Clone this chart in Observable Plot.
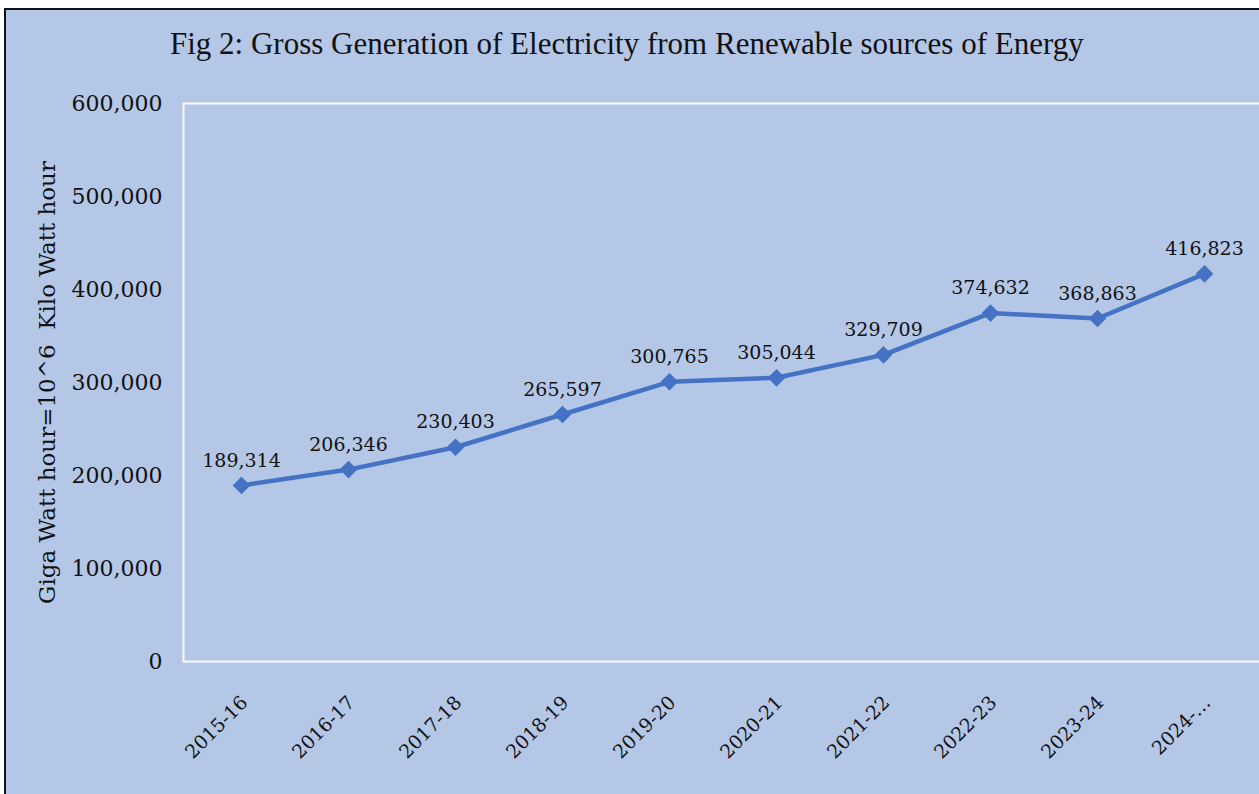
<!DOCTYPE html>
<html>
<head>
<meta charset="utf-8">
<script src="https://cdn.jsdelivr.net/npm/d3@7"></script>
<script src="https://cdn.jsdelivr.net/npm/@observablehq/plot@0.6"></script>
<style>
  html, body { margin: 0; padding: 0; background: #ffffff; overflow: hidden; width: 1259px; height: 794px; }
  #box { position: absolute; left: 4px; top: 8px; width: 1300px; height: 820px; border: 2px solid #111; background: #b4c7e7; }
  #title { height: 70px; font-family: "Liberation Serif", serif; font-size: 31px; color: #111; text-align: left; padding-left: 164px; line-height: 68px; white-space: nowrap; }
</style>
</head>
<body>
<div id="box">
  <div id="title">Fig 2: Gross Generation of Electricity from Renewable sources of Energy</div>
  <div id="chart"></div>
</div>
<script>
const years = ["2015-16","2016-17","2017-18","2018-19","2019-20","2020-21","2021-22","2022-23","2023-24","2024-…"];
const generation = [189314, 206346, 230403, 265597, 300765, 305044, 329709, 374632, 368863, 416823];
const yTicks = [0, 100000, 200000, 300000, 400000, 500000, 600000];
const yLabel = "Giga Watt hour=10^6  Kilo Watt hour";

const data = years.map((y, i) => ({year: y, value: generation[i]}));
const fmt = d3.format(",");

const chart = Plot.plot({
  width: 1300,
  height: 701,
  marginTop: 23,
  marginLeft: 177,
  marginRight: 44,
  marginBottom: 120,
  style: {background: "transparent", fontFamily: "DejaVu Serif, serif", color: "#111"},
  x: {type: "point", domain: years, padding: 0.5, align: 0.5, axis: null},
  y: {domain: [0, 600000], axis: null},
  marks: [
    Plot.frame({stroke: "#ffffff", strokeWidth: 2, strokeOpacity: 0.9}),
    Plot.axisY({ticks: yTicks, tickFormat: d => fmt(d), tickSize: 0, tickPadding: 21, fontSize: 22, label: null}),
    Plot.axisY({ticks: [], label: yLabel, labelAnchor: "center", labelArrow: "none", labelOffset: 145, fontSize: 23, tickSize: 0}),
    Plot.axisX({tickSize: 0, tickRotate: -45, fontSize: 19, tickPadding: 38, dx: 3, label: null}),
    Plot.line(data, {x: "year", y: "value", stroke: "#4472c4", strokeWidth: 4.5}),
    Plot.dot(data, {x: "year", y: "value", symbol: "diamond2", r: 7, fill: "#4472c4", stroke: "#4472c4"}),
    Plot.text(data, {x: "year", y: "value", text: d => fmt(d.value), dy: -25, fontSize: 19, fill: "#111"})
  ]
});
document.getElementById("chart").appendChild(chart);
</script>
</body>
</html>
